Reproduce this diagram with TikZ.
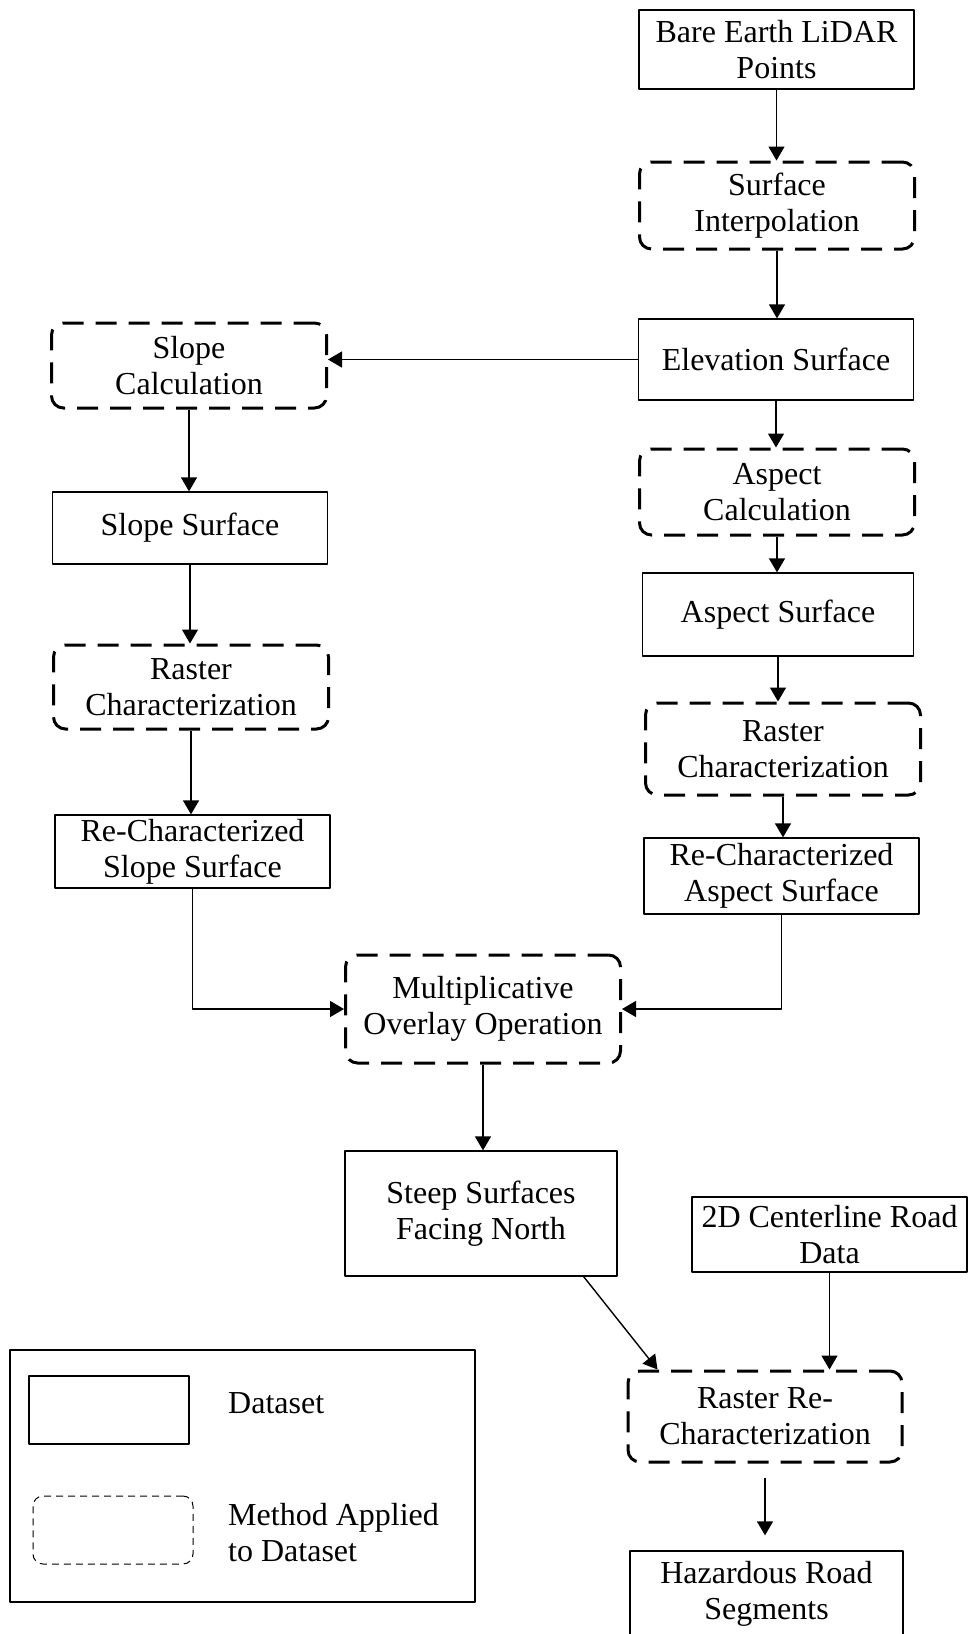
\documentclass[tikz,border=0pt]{standalone}
\usepackage{fontspec}
\setmainfont{Liberation Serif}
\usetikzlibrary{arrows.meta}

\tikzset{
  dataset/.style={draw,line width=1.3pt,inner sep=0pt,align=center,minimum width=275pt},
  method/.style={draw,line width=3pt,dash pattern=on 21pt off 12pt,rounded corners=12pt,inner sep=0pt,align=center,minimum width=275pt},
  flow/.style={->,line width=1.4pt}
}

\begin{document}
\begin{tikzpicture}[line join=round,>={Triangle[length=14pt,width=16pt]},x=1pt,y=-1pt,font=\fontsize{32}{36}\selectfont]
\useasboundingbox[fill=white] (0,0) rectangle (968,1634);
\node[dataset,minimum height=79pt] (bare) at (776.5,49.5) {Bare Earth LiDAR\\Points};
\node[method,minimum height=87pt] (interp) at (777,205.5) {Surface\\Interpolation};
\node[dataset,minimum height=81pt] (elev) at (776,359.5) {Elevation Surface};
\node[method,minimum height=85pt] (slopecalc) at (189,365.5) {Slope\\Calculation};
\node[method,minimum height=86pt] (aspcalc) at (777,492) {Aspect\\Calculation};
\node[dataset,minimum height=72pt] (slopesurf) at (190,528) {Slope Surface};
\node[dataset,minimum height=83pt,minimum width=271pt] (aspsurf) at (778,614.5) {Aspect Surface};
\node[method,minimum height=84pt] (rastl) at (191,687) {Raster\\Characterization};
\node[method,minimum height=92pt] (rastr) at (783,749) {Raster\\Characterization};
\node[dataset,minimum height=73pt] (reslope) at (192.5,851.5) {Re-Characterized\\Slope Surface};
\node[dataset,minimum height=76pt] (reaspect) at (781.5,876) {Re-Characterized\\Aspect Surface};
\node[method,minimum height=108pt] (mult) at (483,1009) {Multiplicative\\Overlay Operation};
\node[dataset,minimum height=125pt,minimum width=272pt] (steep) at (481,1213.5) {Steep Surfaces\\Facing North};
\node[dataset,minimum height=75pt] (road) at (829.5,1234.5) {2D Centerline Road\\Data};
\node[method,minimum height=91pt,minimum width=274pt] (rrc) at (765,1416.5) {Raster Re-\\Characterization};
\node[dataset,minimum height=86pt,minimum width=273pt] (hazard) at (766.5,1594) {Hazardous Road\\Segments};
\draw[flow] (bare.south) -- (bare.south |- interp.north);
\draw[flow] (interp.south) -- (interp.south |- elev.north);
\draw[flow] (elev.west) -- (elev.west -| slopecalc.east);
\draw[flow] (slopecalc.south) -- (slopecalc.south |- slopesurf.north);
\draw[flow] (elev.south) -- (elev.south |- aspcalc.north);
\draw[flow] (aspcalc.south) -- (aspcalc.south |- aspsurf.north);
\draw[flow] (slopesurf.south) -- (slopesurf.south |- rastl.north);
\draw[flow] (aspsurf.south) -- (aspsurf.south |- rastr.north);
\draw[flow] (rastl.south) -- (rastl.south |- reslope.north);
\draw[flow] (rastr.south) -- (rastr.south |- reaspect.north);
\draw[flow] (reslope.south) |- (mult.west);
\draw[flow] (reaspect.south) |- (mult.east);
\draw[flow] (mult.south) -- (mult.south |- steep.north);
\draw[flow] ([xshift=-34pt]steep.south east) -- ([xshift=31pt]rrc.north west);
\draw[flow] (road.south) -- (road.south |- rrc.north);
\draw[flow,shorten <=14pt,shorten >=15pt] (rrc.south) -- (rrc.south |- hazard.north);
\node[draw,line width=1.3pt,minimum width=465pt,minimum height=252pt] (legend) at (242.5,1476) {};
\node[draw,line width=1.3pt,minimum width=160pt,minimum height=68pt] (keydata) at (109,1410) {};
\node[draw,line width=1pt,dash pattern=on 7pt off 5pt,rounded corners=10pt,minimum width=160pt,minimum height=68pt] (keymethod) at (113,1530) {};
\node[anchor=base west,inner sep=0pt] (keydatatext) at (228,1413) {Dataset};
\node[anchor=base west,inner sep=0pt,align=left] (keymethodtext) at (228,1561) {Method Applied\\to Dataset};
\end{tikzpicture}
\end{document}
